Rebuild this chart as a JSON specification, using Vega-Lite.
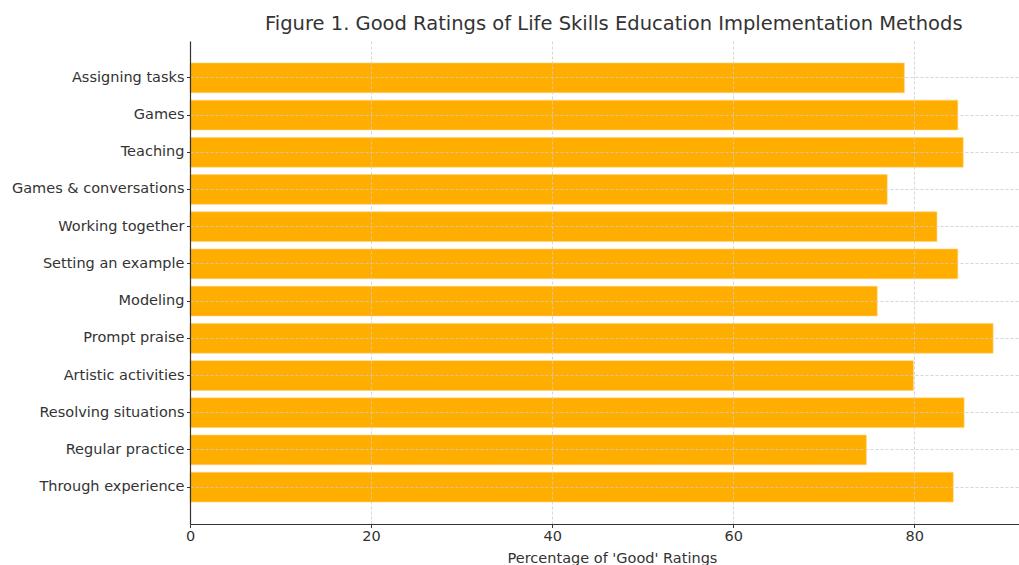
{
  "$schema": "https://vega.github.io/schema/vega-lite/v6.json",
  "autosize": "none",
  "width": 829,
  "height": 483,
  "padding": {"left": 190, "top": 41, "right": 0, "bottom": 41},
  "background": "white",
  "title": {
    "text": "Figure 1. Good Ratings of Life Skills Education Implementation Methods",
    "font": "DejaVu Sans",
    "fontSize": 19.5,
    "fontWeight": "normal",
    "color": "#333333",
    "anchor": "start",
    "frame": "group",
    "dx": 75,
    "offset": 7
  },
  "config": {
    "view": {"stroke": null},
    "font": "DejaVu Sans"
  },
  "data": {
    "values": [
      {"method": "Assigning tasks", "pct": 78.9},
      {"method": "Games", "pct": 84.8},
      {"method": "Teaching", "pct": 85.4},
      {"method": "Games & conversations", "pct": 77.0},
      {"method": "Working together", "pct": 82.5},
      {"method": "Setting an example", "pct": 84.8},
      {"method": "Modeling", "pct": 75.9},
      {"method": "Prompt praise", "pct": 88.7},
      {"method": "Artistic activities", "pct": 79.9},
      {"method": "Resolving situations", "pct": 85.5},
      {"method": "Regular practice", "pct": 74.7},
      {"method": "Through experience", "pct": 84.3}
    ]
  },
  "mark": {"type": "bar", "color": "#ffae00", "stroke": "#ffd27a", "strokeWidth": 0.6},
  "encoding": {
    "y": {
      "field": "method",
      "type": "nominal",
      "sort": null,
      "scale": {"paddingInner": 0.2, "paddingOuter": 0.59},
      "axis": {
        "title": null,
        "zindex": 1,
        "labelFont": "DejaVu Sans",
        "labelFontSize": 14.5,
        "labelColor": "#333333",
        "labelPadding": 2.5,
        "tickSize": 3.5,
        "tickColor": "#333333",
        "domainColor": "#333333",
        "domainWidth": 1.2,
        "grid": true,
        "gridColor": "#cccccc",
        "gridDash": [3, 2],
        "gridWidth": 0.8
      }
    },
    "x": {
      "field": "pct",
      "type": "quantitative",
      "scale": {"domain": [0, 91.56], "nice": false},
      "axis": {
        "title": "Percentage of 'Good' Ratings",
        "titleFont": "DejaVu Sans",
        "titleFontSize": 14.5,
        "titleFontWeight": "normal",
        "titleColor": "#333333",
        "titleX": 422,
        "titleY": 38,
        "titleBaseline": "alphabetic",
        "values": [0, 20, 40, 60, 80],
        "zindex": 1,
        "labelFont": "DejaVu Sans",
        "labelFontSize": 14.5,
        "labelColor": "#333333",
        "labelPadding": 2,
        "labelFlush": false,
        "tickSize": 3.5,
        "tickColor": "#333333",
        "domainColor": "#333333",
        "domainWidth": 1.2,
        "grid": true,
        "gridColor": "#cccccc",
        "gridDash": [3, 2],
        "gridWidth": 0.8
      }
    }
  }
}
